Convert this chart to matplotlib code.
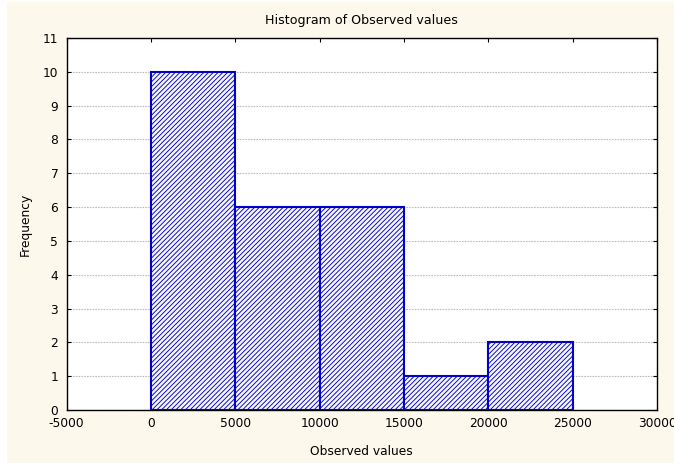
import matplotlib
matplotlib.use("Agg")
import matplotlib.pyplot as plt
from matplotlib.patches import Rectangle

bin_edges = [0, 5000, 10000, 15000, 20000, 25000]
counts = [10, 6, 6, 1, 2]
x_ticks = [-5000, 0, 5000, 10000, 15000, 20000, 25000, 30000]
x_tick_labels = ["-5000", "0", "5000", "10000", "15000", "20000", "25000", "30000"]
y_ticks = list(range(0, 12))

plt.rcParams['font.family'] = ['DejaVu Sans']
plt.rcParams['hatch.linewidth'] = 0.65
plt.rcParams['hatch.color'] = '#4a4aff'

FS = 8.8
W, H = 674, 463
fig = plt.figure(figsize=(W / 100, H / 100), dpi=100, facecolor='white')
fig.patches.append(Rectangle((7 / W, 0), 1 - 7 / W, 1 - 2 / H, transform=fig.transFigure,
                             facecolor='#fdf8ec', edgecolor='none', zorder=-10))

left, right, top, bottom = 66.6, 657.0, 38, 410
ax = fig.add_axes([left / W, 1 - bottom / H, (right - left) / W, (bottom - top) / H])
ax.set_facecolor('white')

widths = [bin_edges[i + 1] - bin_edges[i] for i in range(len(counts))]
ax.bar(bin_edges[:-1], counts, width=widths, align='edge', facecolor='#f6f6ff',
       edgecolor='#0000c8', linewidth=1.5, hatch='///////', zorder=3)

ax.set_xlim(-5000, 30000)
ax.set_ylim(0, 11)
ax.set_xticks(x_ticks)
ax.set_xticklabels(x_tick_labels)
ax.set_yticks(y_ticks)
ax.yaxis.grid(True, color='#bdbdbd', linestyle=(0, (1.5, 1)), linewidth=0.8, zorder=0)
ax.tick_params(axis='x', which='both', bottom=False, top=True, direction='in',
               length=3, labelsize=FS, pad=5)
ax.tick_params(axis='y', which='both', left=True, right=True, direction='in',
               length=3, labelsize=FS, pad=6)
for s in ax.spines.values():
    s.set_linewidth(1.0)
    s.set_color('black')

ax.set_title("Histogram of Observed values", fontsize=FS + 0.3, pad=10)
ax.set_xlabel("Observed values", fontsize=FS, labelpad=11)
ax.set_ylabel("Frequency", fontsize=FS, labelpad=8)

fig.savefig("out.png", dpi=100, facecolor=fig.get_facecolor())
